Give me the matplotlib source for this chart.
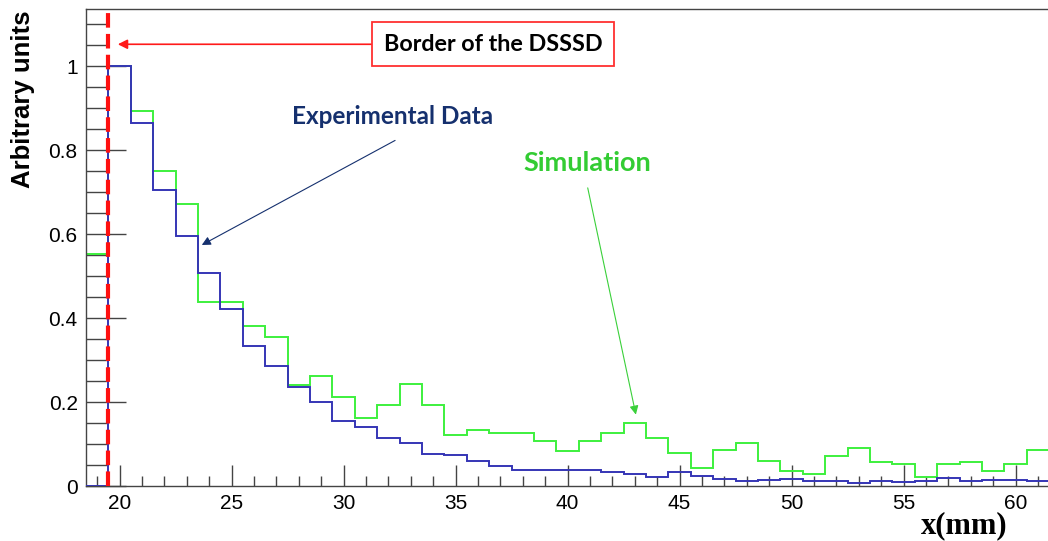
import numpy as np
import matplotlib
matplotlib.use("Agg")
import matplotlib.pyplot as plt
from matplotlib.ticker import MultipleLocator

# bin edges (1 mm bins) and contents
edges = np.arange(18.5, 62.0, 1.0)
experimental = [0.0, 1.0, 0.865, 0.705, 0.596, 0.508, 0.422, 0.333, 0.286, 0.236,
                0.201, 0.154, 0.141, 0.114, 0.102, 0.077, 0.073, 0.060, 0.047, 0.037,
                0.039, 0.037, 0.039, 0.033, 0.029, 0.021, 0.033, 0.024, 0.017, 0.013,
                0.015, 0.017, 0.012, 0.013, 0.008, 0.013, 0.009, 0.012, 0.019, 0.013,
                0.015, 0.014, 0.013]
simulation = [0.552, 1.0, 0.893, 0.750, 0.671, 0.439, 0.439, 0.381, 0.354, 0.241,
              0.262, 0.213, 0.163, 0.192, 0.242, 0.192, 0.121, 0.134, 0.127, 0.127,
              0.106, 0.084, 0.106, 0.127, 0.149, 0.114, 0.078, 0.042, 0.085, 0.102,
              0.059, 0.036, 0.028, 0.071, 0.091, 0.058, 0.052, 0.021, 0.052, 0.058,
              0.036, 0.052, 0.085]
border_x = 19.5

fig = plt.figure(figsize=(10.48, 5.41), dpi=100)
ax = fig.add_axes([86/1048, 55/541, 962/1048, 477/541])

ax.stairs(simulation, edges, color='#3df03d', lw=1.4, zorder=2)
ax.stairs(experimental, edges, color='#3535b5', lw=1.4, zorder=3)
ax.axvline(border_x, color='#ff1010', lw=3, ls=(0, (3.5, 1.5)), zorder=4)

ax.set_xlim(18.5, 61.45)
ax.set_ylim(0, 1.136)

# ROOT-like axes: inward ticks, no right frame
for s in ['left', 'bottom', 'top']:
    ax.spines[s].set_color('#444444')
    ax.spines[s].set_linewidth(1.0)
ax.spines['right'].set_visible(False)
ax.xaxis.set_major_locator(MultipleLocator(5))
ax.xaxis.set_minor_locator(MultipleLocator(1))
ax.yaxis.set_major_locator(MultipleLocator(0.2))
ax.yaxis.set_minor_locator(MultipleLocator(0.05))
ax.tick_params(axis='x', which='major', direction='in', length=15, width=1, color='#444444',
               labelsize=15, pad=6)
ax.tick_params(axis='x', which='minor', direction='in', length=7, width=1, color='#444444')
ax.tick_params(axis='y', which='major', direction='in', length=29, width=1, color='#444444',
               labelsize=15, pad=6)
ax.tick_params(axis='y', which='minor', direction='in', length=15, width=1, color='#444444')
ax.set_yticks([0, 0.2, 0.4, 0.6, 0.8, 1.0])
ax.set_yticklabels(['0', '0.2', '0.4', '0.6', '0.8', '1'])
for lab in ax.get_xticklabels() + ax.get_yticklabels():
    lab.set_family('Liberation Sans')

# axis titles, ROOT style (y title at the top, x title at the right)
fig.text(23/1048, 1 - 10/541, 'Arbitrary units', rotation=90, fontsize=18.5, fontweight='bold',
         family='Liberation Sans', ha='center', va='top')
fig.text(964/1048, 1 - 526/541, 'x(mm)', fontsize=22, fontweight='bold', family='Liberation Serif',
         ha='center', va='center')

# annotations
ax.annotate('Border of the DSSSD', xy=(19.92, 1.052), xytext=(31.8, 1.052),
            fontsize=16.8, fontweight='bold', family='Lato', ha='left', va='center',
            bbox=dict(boxstyle='square,pad=0.5', fc='white', ec='#ff3030', lw=1.3),
            arrowprops=dict(arrowstyle='-|>', color='#ff1a1a', lw=1.2, mutation_scale=14,
                            shrinkA=0, shrinkB=0, relpos=(0, 0.5)))

ax.annotate('', xy=(23.67, 0.574), xytext=(32.3, 0.823),
            arrowprops=dict(arrowstyle='-|>', color='#15306e', lw=0.8, mutation_scale=13,
                            shrinkA=0, shrinkB=0))
ax.text(32.2, 0.880, 'Experimental Data', fontsize=17.5, fontweight='bold', family='Lato',
        color='#15306e', ha='center', va='center')

ax.annotate('', xy=(43.05, 0.17), xytext=(40.9, 0.71),
            arrowprops=dict(arrowstyle='-|>', color='#3ad03a', lw=0.8, mutation_scale=13,
                            shrinkA=0, shrinkB=0))
ax.text(40.9, 0.77, 'Simulation', fontsize=19.5, fontweight='bold', family='Lato',
        color='#33cc33', ha='center', va='center')

fig.savefig('out.png', dpi=100)
